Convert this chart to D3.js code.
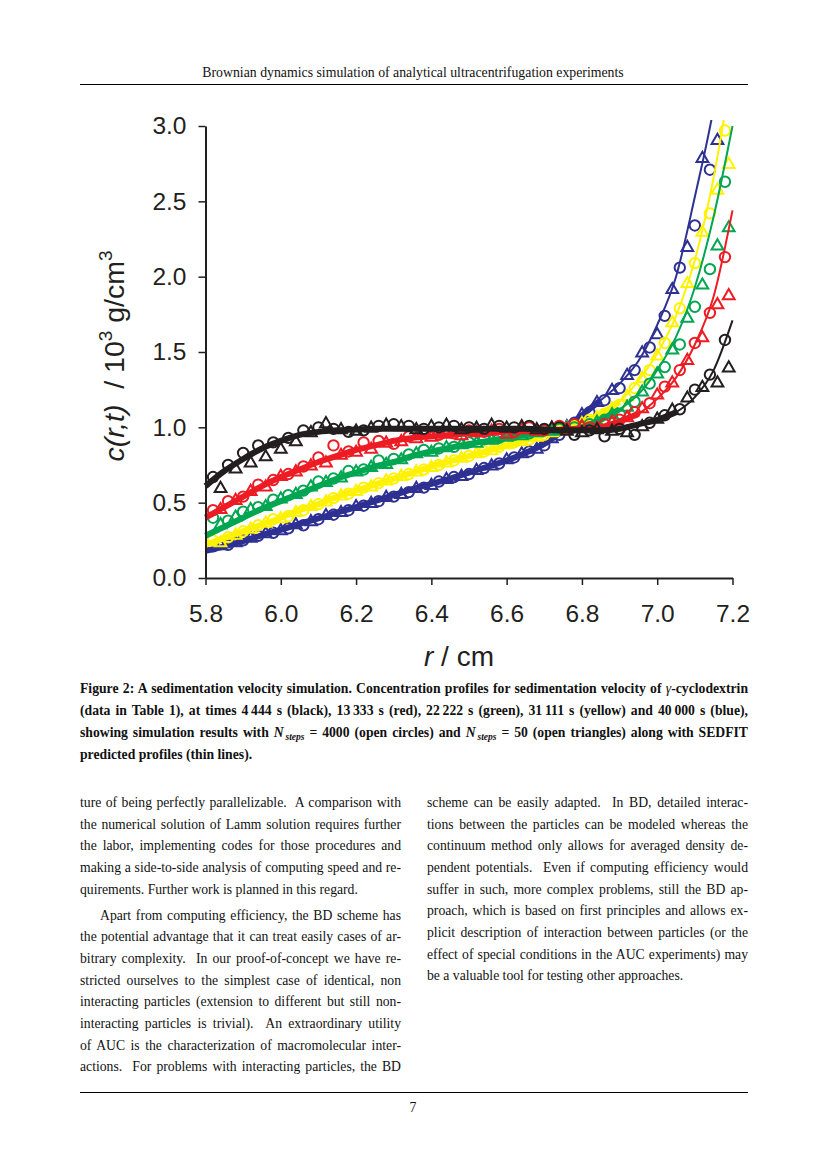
<!DOCTYPE html>
<html>
<head>
<meta charset="utf-8">
<script src="https://cdn.jsdelivr.net/npm/d3@7"></script>
<style>
body { margin: 0; background: #fff; }
svg { display: block; }
.serif { font-family: "Liberation Serif", "Times New Roman", serif; fill: #111; }
.sans { font-family: "Liberation Sans", Arial, sans-serif; fill: #231f20; }
</style>
</head>
<body>
<svg id="page" width="827" height="1170"></svg>
<script>
// SEDFIT profiles (thin lines)
var rLine = [5.80,5.85,5.90,5.95,6.00,6.05,6.10,6.15,6.20,6.25,6.30,6.35,6.40,6.45,6.50,6.55,6.60,6.65,6.70,6.75,6.80,6.85,6.90,6.95,7.00,7.05,7.10,7.15,7.20]
var lineBlack  = [0.61,0.71,0.79,0.86,0.91,0.95,0.97,0.98,0.985,0.99,0.99,0.99,0.99,0.99,0.99,0.99,0.99,0.99,0.985,0.98,0.98,0.98,0.99,1.02,1.05,1.10,1.20,1.38,1.71]
var lineRed    = [0.40,0.47,0.54,0.61,0.67,0.72,0.77,0.81,0.85,0.88,0.91,0.93,0.94,0.95,0.96,0.965,0.97,0.975,0.98,0.985,0.99,1.00,1.04,1.09,1.19,1.33,1.55,1.87,2.44]
var lineGreen  = [0.28,0.34,0.40,0.46,0.51,0.56,0.61,0.66,0.70,0.74,0.77,0.81,0.84,0.865,0.89,0.91,0.93,0.95,0.965,0.98,1.00,1.05,1.12,1.22,1.38,1.60,1.93,2.40,3.00]
var lineYellow = [0.22,0.265,0.31,0.355,0.40,0.45,0.49,0.54,0.58,0.62,0.66,0.70,0.74,0.775,0.81,0.845,0.88,0.915,0.95,0.99,1.03,1.09,1.17,1.31,1.49,1.74,2.11,2.66,3.40]
var lineBlue   = [0.18,0.21,0.245,0.285,0.32,0.36,0.395,0.435,0.47,0.51,0.55,0.59,0.625,0.66,0.70,0.74,0.78,0.83,0.89,0.98,1.08,1.18,1.29,1.44,1.68,2.00,2.53,3.12,3.90]

// N_steps = 4000 (open circles)
var rCirc = [5.82,5.86,5.90,5.94,5.98,6.02,6.06,6.10,6.14,6.18,6.22,6.26,6.30,6.34,6.38,6.42,6.46,6.50,6.54,6.58,6.62,6.66,6.70,6.74,6.78,6.82,6.86,6.90,6.94,6.98,7.02,7.06,7.10,7.14,7.18]
var circBlack  = [0.67,0.75,0.83,0.88,0.90,0.93,0.98,1.00,0.99,0.97,0.98,1.01,1.02,1.01,0.99,1.00,1.01,1.00,0.99,1.01,1.00,1.01,0.99,1.00,0.95,0.98,0.94,0.99,0.95,1.03,1.08,1.12,1.25,1.35,1.58]
var circRed    = [0.45,0.51,0.54,0.62,0.65,0.69,0.74,0.80,0.88,0.84,0.90,0.91,0.89,0.94,0.97,0.95,0.96,0.98,0.97,0.99,0.97,1.00,0.98,1.01,1.02,1.00,1.02,1.05,1.10,1.16,1.27,1.38,1.56,1.76,2.13]
var circGreen  = [0.40,0.38,0.44,0.47,0.52,0.55,0.58,0.64,0.66,0.71,0.72,0.78,0.79,0.82,0.85,0.86,0.87,0.90,0.92,0.93,0.95,0.96,0.98,0.99,1.00,1.02,1.05,1.09,1.17,1.29,1.40,1.55,1.80,2.05,2.63]
var circYellow = [0.25,0.27,0.31,0.35,0.39,0.41,0.45,0.49,0.53,0.56,0.60,0.63,0.66,0.69,0.72,0.75,0.78,0.81,0.84,0.87,0.90,0.92,0.95,0.98,1.01,1.05,1.09,1.15,1.26,1.38,1.56,1.79,2.09,2.42,2.97]
var circBlue   = [0.21,0.22,0.25,0.28,0.30,0.33,0.35,0.39,0.42,0.45,0.48,0.51,0.54,0.57,0.60,0.64,0.67,0.69,0.73,0.76,0.80,0.84,0.88,0.95,1.03,1.10,1.18,1.26,1.38,1.53,1.74,2.06,2.34,2.71,null]

// N_steps = 50 (open triangles)
var rTri = [5.84,5.88,5.92,5.96,6.00,6.04,6.08,6.12,6.16,6.20,6.24,6.28,6.32,6.36,6.40,6.44,6.48,6.52,6.56,6.60,6.64,6.68,6.72,6.76,6.80,6.84,6.88,6.92,6.96,7.00,7.04,7.08,7.12,7.16,7.19]
var triBlack  = [0.60,0.73,0.77,0.81,0.86,0.91,0.97,1.03,0.99,0.98,1.00,1.02,1.01,0.99,1.01,1.02,0.99,1.00,1.02,1.00,1.01,0.99,1.00,0.98,0.97,0.99,0.98,0.97,1.01,1.06,1.12,1.20,1.27,1.30,1.40]
var triRed    = [0.46,0.52,0.58,0.61,0.68,0.71,0.75,0.77,0.82,0.84,0.86,0.90,0.91,0.93,0.94,0.96,0.95,0.97,0.98,0.96,0.99,0.98,1.00,0.99,1.01,1.00,1.04,1.07,1.13,1.22,1.30,1.45,1.60,1.82,1.88]
var triGreen  = [0.36,0.41,0.46,0.48,0.53,0.56,0.61,0.64,0.67,0.71,0.74,0.76,0.79,0.83,0.84,0.87,0.89,0.90,0.92,0.94,0.95,0.97,0.98,1.00,1.01,1.04,1.09,1.14,1.24,1.36,1.52,1.73,1.95,2.21,2.33]
var triYellow = [0.24,0.29,0.33,0.37,0.40,0.44,0.48,0.51,0.55,0.58,0.61,0.65,0.68,0.71,0.74,0.77,0.80,0.83,0.85,0.89,0.91,0.94,0.97,1.00,1.03,1.07,1.13,1.21,1.33,1.48,1.70,1.96,2.30,2.58,2.75]
var triBlue   = [0.22,0.24,0.27,0.30,0.32,0.36,0.38,0.42,0.44,0.48,0.50,0.54,0.56,0.60,0.62,0.66,0.68,0.72,0.75,0.79,0.83,0.86,0.93,1.01,1.09,1.17,1.25,1.35,1.50,1.62,1.92,2.20,2.79,2.91,null]

// drawing order: blue first, black on top
var seriesNames  = ["blue","yellow","green","red","black"]
var seriesColors = ["#2e3192","#fff200","#00a651","#ed1c24","#231f20"]
var seriesLines  = [lineBlue, lineYellow, lineGreen, lineRed, lineBlack]
var seriesCircs  = [circBlue, circYellow, circGreen, circRed, circBlack]
var seriesTris   = [triBlue, triYellow, triGreen, triRed, triBlack]
var bandEnd      = [6.85, 6.90, 6.90, 6.95, 7.05]   // dense simulation band stops here

var xTicks = [5.8,6.0,6.2,6.4,6.6,6.8,7.0,7.2]
var yTicks = [0.0,0.5,1.0,1.5,2.0,2.5,3.0]

var headerText = "Brownian dynamics simulation of analytical ultracentrifugation experiments"
var pageNumber = "7"

var leftCol = [
	"ture of being perfectly parallelizable.  A comparison with",
	"the numerical solution of Lamm solution requires further",
	"the labor, implementing codes for those procedures and",
	"making a side-to-side analysis of computing speed and re-",
	"quirements. Further work is planned in this regard.",
	"Apart from computing efficiency, the BD scheme has",
	"the potential advantage that it can treat easily cases of ar-",
	"bitrary complexity.  In our proof-of-concept we have re-",
	"stricted ourselves to the simplest case of identical, non",
	"interacting particles (extension to different but still non-",
	"interacting particles is trivial).  An extraordinary utility",
	"of AUC is the characterization of macromolecular inter-",
	"actions.  For problems with interacting particles, the BD"
]
var rightCol = [
	"scheme can be easily adapted.  In BD, detailed interac-",
	"tions between the particles can be modeled whereas the",
	"continuum method only allows for averaged density de-",
	"pendent potentials.  Even if computing efficiency would",
	"suffer in such, more complex problems, still the BD ap-",
	"proach, which is based on first principles and allows ex-",
	"plicit description of interaction between particles (or the",
	"effect of special conditions in the AUC experiments) may",
	"be a valuable tool for testing other approaches."
]

var svg = d3.select("#page")

var x = d3.scaleLinear().domain([5.8, 7.2]).range([205.5, 732.5])
var y = d3.scaleLinear().domain([0, 3]).range([578, 126])

// ---------- page furniture ----------
svg.append("text").attr("class","serif").attr("x",413).attr("y",77)
	.attr("text-anchor","middle").style("font-size","13.8px").text(headerText)
svg.append("line").attr("x1",80).attr("x2",748).attr("y1",84.5).attr("y2",84.5)
	.attr("stroke","#000").attr("stroke-width",1)
svg.append("line").attr("x1",80).attr("x2",748).attr("y1",1092.5).attr("y2",1092.5)
	.attr("stroke","#000").attr("stroke-width",1)
svg.append("text").attr("class","serif").attr("x",413).attr("y",1112)
	.attr("text-anchor","middle").style("font-size","13.8px").text(pageNumber)

// ---------- chart ----------
svg.append("clipPath").attr("id","plotclip").append("rect")
	.attr("x",200).attr("y",120).attr("width",540).attr("height",460)

var plot = svg.append("g").attr("clip-path","url(#plotclip)")

var line = d3.line().x(d => x(d[0])).y(d => y(d[1])).curve(d3.curveMonotoneX)
var tri = d3.symbol().type(d3.symbolTriangle).size(60)

seriesNames.forEach(function(name, i){
	var col = seriesColors[i]
	var pts = d3.zip(rLine, seriesLines[i])
	var g = plot.append("g").attr("class","series " + name)

	g.append("path").datum(pts.filter(d => d[0] <= bandEnd[i]))
		.attr("d", line).attr("fill","none").attr("stroke",col)
		.attr("stroke-width",6).attr("stroke-linejoin","round")
	g.append("path").datum(pts)
		.attr("d", line).attr("fill","none").attr("stroke",col).attr("stroke-width",2)

	g.selectAll("circle").data(d3.zip(rCirc, seriesCircs[i]).filter(d => d[1] != null))
		.enter().append("circle")
		.attr("cx", d => x(d[0])).attr("cy", d => y(d[1])).attr("r",5.2)
		.attr("fill","none").attr("stroke",col).attr("stroke-width",2)

	g.selectAll("path.tri").data(d3.zip(rTri, seriesTris[i]).filter(d => d[1] != null))
		.enter().append("path").attr("class","tri")
		.attr("transform", d => "translate(" + x(d[0]) + "," + (y(d[1]) + 1) + ")")
		.attr("d", tri).attr("fill","none").attr("stroke",col).attr("stroke-width",2)
})

var yAxis = svg.append("g").attr("transform","translate(205.5,0)")
	.call(d3.axisLeft(y).tickValues(yTicks).tickFormat(d3.format(".1f")).tickSize(7).tickSizeOuter(0).tickPadding(12))
var xAxis = svg.append("g").attr("transform","translate(0,578)")
	.call(d3.axisBottom(x).tickValues(xTicks).tickFormat(d3.format(".1f")).tickSize(7).tickSizeOuter(0).tickPadding(20))

svg.selectAll(".domain").attr("stroke","#231f20").attr("stroke-width",2)
svg.selectAll(".tick line").attr("stroke","#231f20").attr("stroke-width",1.5)
svg.selectAll(".tick text").attr("class","sans").attr("fill","#231f20")
	.style("font-family",'"Liberation Sans", Arial, sans-serif').style("font-size","24.5px")

// axis titles
var xt = svg.append("text").attr("class","sans").attr("x",459).attr("y",666)
	.attr("text-anchor","middle").style("font-size","28px")
xt.append("tspan").style("font-style","italic").text("r")
xt.append("tspan").text(" / cm")

var yt = svg.append("text").attr("class","sans")
	.attr("transform","translate(124,356) rotate(-90)")
	.attr("text-anchor","middle").style("font-size","28.5px")
yt.append("tspan").style("font-style","italic").text("c(r,t)")
yt.append("tspan").text("\u00a0\u00a0/ 10")
yt.append("tspan").attr("dy",-12).style("font-size","19px").text("3")
yt.append("tspan").attr("dy",12).text(" g/cm")
yt.append("tspan").attr("dy",-12).style("font-size","19px").text("3")

// ---------- caption ----------
function justify(sel, width){
	sel.each(function(){
		var t = d3.select(this)
		var n = (t.text().match(/ /g) || []).length
		var w = this.getComputedTextLength()
		if (n) t.style("word-spacing", ((width - w) / n) + "px")
	})
}

var capY = [693, 715, 737, 759]
var cap = svg.append("g").attr("class","caption")
	.style("font-family",'"Liberation Serif", "Times New Roman", serif')
	.style("font-size","13.7px").style("font-weight","bold").attr("fill","#111")

var c1 = cap.append("text").attr("x",80).attr("y",capY[0])
c1.append("tspan").text("Figure 2: A sedimentation velocity simulation. Concentration profiles for sedimentation velocity of ")
c1.append("tspan").style("font-weight","normal").style("font-style","italic").text("\u03b3")
c1.append("tspan").text("-cyclodextrin")

var c2 = cap.append("text").attr("x",80).attr("y",capY[1])
	.text("(data in Table 1), at times 4\u2009444 s (black), 13\u2009333 s (red), 22\u2009222 s (green), 31\u2009111 s (yellow) and 40\u2009000 s (blue),")

var c3 = cap.append("text").attr("x",80).attr("y",capY[2])
c3.append("tspan").text("showing simulation results with ")
c3.append("tspan").style("font-style","italic").text("N")
c3.append("tspan").attr("dy",3).style("font-style","italic").style("font-size","9.5px").text("\u2009steps")
c3.append("tspan").attr("dy",-3).text(" = 4000 (open circles) and ")
c3.append("tspan").style("font-style","italic").text("N")
c3.append("tspan").attr("dy",3).style("font-style","italic").style("font-size","9.5px").text("\u2009steps")
c3.append("tspan").attr("dy",-3).text(" = 50 (open triangles) along with SEDFIT")

cap.append("text").attr("x",80).attr("y",capY[3]).text("predicted profiles (thin lines).")

justify(cap.selectAll("text").filter((d, i) => i < 3), 668)

// ---------- body text ----------
var leftY  = [807, 828.7, 850.3, 872, 893.5, 919.5, 941.2, 962.8, 984.5, 1006.2, 1027.8, 1049.5, 1071]
var rightY = [807, 828.7, 850.3, 872, 893.5, 915.2, 936.8, 958.5, 980.2]
var body = svg.append("g")
	.style("font-family",'"Liberation Serif", "Times New Roman", serif')
	.style("font-size","13.7px").attr("fill","#111")

leftCol.forEach(function(s, i){
	var ind = i == 5 ? 20 : 0
	var t = body.append("text").attr("x", 80 + ind).attr("y", leftY[i]).attr("xml:space","preserve").text(s)
	if (i != 4) justify(t, 321 - ind)
})
rightCol.forEach(function(s, i){
	var t = body.append("text").attr("x", 427).attr("y", rightY[i]).attr("xml:space","preserve").text(s)
	if (i != rightCol.length - 1) justify(t, 321)
})
</script>
</body>
</html>
